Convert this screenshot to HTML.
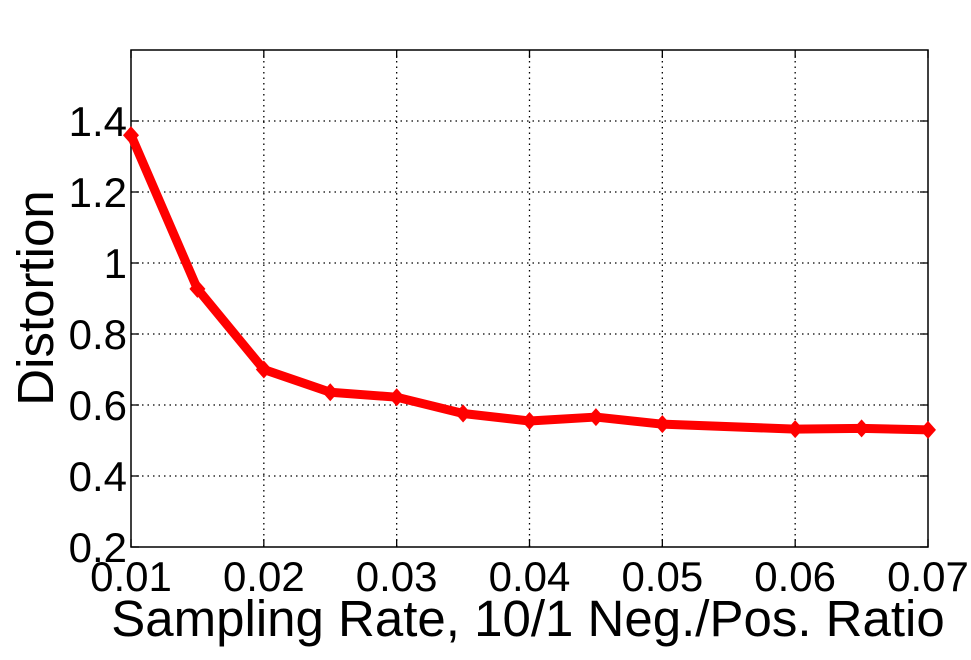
<!DOCTYPE html>
<html><head><meta charset="utf-8"><style>
html,body{margin:0;padding:0;background:#fff;}
svg{display:block;font-family:"Liberation Sans",Arial,sans-serif;}
</style></head><body>
<svg id="chart" width="971" height="660" viewBox="0 0 971 660" xmlns="http://www.w3.org/2000/svg">
<g id="grid"></g>
<g id="axes"></g>
<g id="series"></g>
<text x="528" y="636" font-size="51" text-anchor="middle">Sampling Rate, 10/1 Neg./Pos. Ratio</text>
<text transform="translate(53,298) rotate(-90)" font-size="51" text-anchor="middle">Distortion</text>
</svg>
<script>
const xValues=[0.01,0.015,0.02,0.025,0.03,0.035,0.04,0.045,0.05,0.06,0.065,0.07];
const yValues=[1.36,0.927,0.70,0.636,0.622,0.576,0.555,0.566,0.546,0.532,0.534,0.530];
const xTicks=[0.01,0.02,0.03,0.04,0.05,0.06,0.07];
const xTickLabels=["0.01","0.02","0.03","0.04","0.05","0.06","0.07"];
const yTicks=[0.2,0.4,0.6,0.8,1,1.2,1.4];
const yTickLabels=["0.2","0.4","0.6","0.8","1","1.2","1.4"];
const L=131,R=928,T=50,B=547,xMin=0.01,xMax=0.07,yMin=0.2,yMax=1.6;
const sx=v=>L+(v-xMin)/(xMax-xMin)*(R-L);
const sy=v=>B-(v-yMin)/(yMax-yMin)*(B-T);
const NS="http://www.w3.org/2000/svg";
function mk(tag,attrs,parent){const e=document.createElementNS(NS,tag);for(const k in attrs)e.setAttribute(k,attrs[k]);parent.appendChild(e);return e;}
const grid=document.getElementById('grid'),axes=document.getElementById('axes'),series=document.getElementById('series');
xTicks.forEach((t,i)=>{const x=sx(t);
 if(i>0&&i<xTicks.length-1){const g=mk('line',{x1:x,x2:x,y1:T,y2:B,stroke:'#000','stroke-width':1.3,'stroke-dasharray':'1.5 4'},grid);
 }
 const a=mk('line',{x1:x,x2:x,y1:B,y2:B-8,stroke:'#000','stroke-width':1.3},axes);
 const b=mk('line',{x1:x,x2:x,y1:T,y2:T+8,stroke:'#000','stroke-width':1.3},axes);
 const tx=mk('text',{x:x,y:591,'font-size':42,'text-anchor':'middle'},axes);tx.textContent=xTickLabels[i];
 });
yTicks.forEach((t,i)=>{const y=sy(t);
 if(i>0){const g=mk('line',{x1:L,x2:R,y1:y,y2:y,stroke:'#000','stroke-width':1.3,'stroke-dasharray':'1.5 4'},grid);
 }
 const a=mk('line',{x1:L,x2:L+8,y1:y,y2:y,stroke:'#000','stroke-width':1.3},axes);
 const b=mk('line',{x1:R,x2:R-8,y1:y,y2:y,stroke:'#000','stroke-width':1.3},axes);
 const tx=mk('text',{x:L-4,y:y+15,'font-size':42,'text-anchor':'end'},axes);tx.textContent=yTickLabels[i];
 });
const box=mk('rect',{x:L,y:T,width:R-L,height:B-T,fill:'none',stroke:'#000','stroke-width':1.5},axes);

const pts=xValues.map((v,i)=>sx(v)+','+sy(yValues[i])).join(' ');
const line=mk('polyline',{points:pts,fill:'none',stroke:'#ff0000','stroke-width':9,'stroke-linejoin':'round'},series);

xValues.forEach((v,i)=>{const x=sx(v),y=sy(yValues[i]);
 const m=mk('polygon',{points:`${x},${y-9} ${x+8},${y} ${x},${y+9} ${x-8},${y}`,fill:'#ff0000'},series);
 });
</script>
</body></html>
